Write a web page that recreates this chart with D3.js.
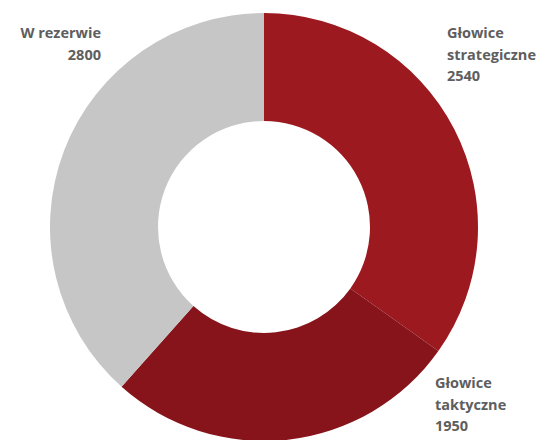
<!DOCTYPE html>
<html>
<head>
<meta charset="utf-8">
<script src="https://cdn.jsdelivr.net/npm/d3@7"></script>
<style>
  html, body { margin: 0; padding: 0; background: #fff; }
  svg { display: block; }
  .lbl { font-family: "Open Sans", "Noto Sans", sans-serif; font-weight: 700; font-size: 14.5px; fill: #5e5e5e; }
</style>
</head>
<body>
<svg id="chart"></svg>
<script>
const categories = ["Głowice strategiczne", "Głowice taktyczne", "W rezerwie"];
const values = [2540, 1950, 2800];
const labelLines = [["Głowice", "strategiczne", "2540"], ["Głowice", "taktyczne", "1950"], ["W rezerwie", "2800"]];

const width = 548;
const height = 440;
const cx = 264, cy = 227;
const outerR = 214, innerR = 106;
const colors = ["#9c1a1f", "#86141a", "#c6c6c6"];

// label anchor spots per slice: x, first line y, text-anchor
const labelSpots = [
    {x: 447, y: 38, anchor: "start"},
    {x: 435, y: 388, anchor: "start"},
    {x: 101, y: 38, anchor: "end"}
];
const lineGap = 21.5;

const svg = d3.select("#chart")
    .attr("width", width)
    .attr("height", height);

const pie = d3.pie().sort(null).value(d => d)(values);
const arc = d3.arc().innerRadius(innerR).outerRadius(outerR);

svg.append("g")
    .attr("transform", "translate(" + cx + "," + cy + ")")
    .selectAll("path")
    .data(pie)
    .join("path")
    .attr("d", arc)
    .attr("fill", (d, i) => colors[i]);

// labels
categories.forEach((c, i) => {
    const spot = labelSpots[i];
    const t = svg.append("text")
        .attr("class", "lbl")
        .attr("text-anchor", spot.anchor);
    labelLines[i].forEach((line, j) => {
        t.append("tspan")
            .attr("x", spot.x)
            .attr("y", spot.y + j * lineGap)
            .text(line);
    });
});
</script>
</body>
</html>
